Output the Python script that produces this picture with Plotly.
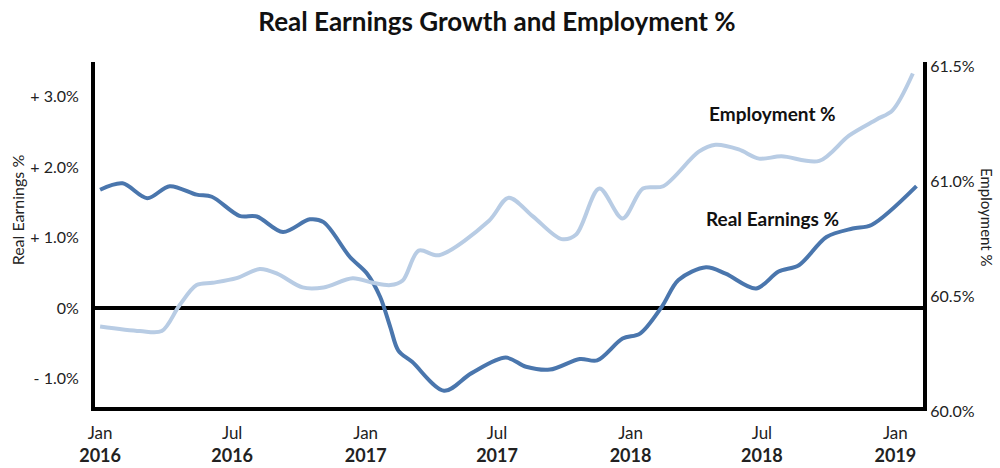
import plotly.graph_objects as go

# Real average hourly earnings growth, year over year (%)
earn_dates = [
    "2016-01-01", "2016-02-01", "2016-03-06", "2016-04-06", "2016-05-13", "2016-06-03",
    "2016-07-11", "2016-08-04", "2016-09-09", "2016-10-16", "2016-11-04", "2016-12-10",
    "2017-01-03", "2017-01-21", "2017-02-04", "2017-02-15", "2017-03-06", "2017-04-19",
    "2017-05-27", "2017-07-13", "2017-08-10", "2017-09-12", "2017-10-23", "2017-11-16",
    "2017-12-21", "2018-01-14", "2018-02-13", "2018-03-08", "2018-04-15", "2018-05-12",
    "2018-06-23", "2018-07-24", "2018-08-21", "2018-09-28", "2018-11-03", "2018-11-29",
    "2019-01-30",
]
earn_values = [
    1.68, 1.77, 1.56, 1.73, 1.61, 1.58,
    1.31, 1.30, 1.08, 1.26, 1.22, 0.73,
    0.49, 0.16, -0.27, -0.60, -0.76, -1.17,
    -0.92, -0.70, -0.83, -0.87, -0.72, -0.74,
    -0.43, -0.36, 0.02, 0.40, 0.58, 0.49,
    0.28, 0.52, 0.61, 1.01, 1.13, 1.18,
    1.73,
]

# Employment-population ratio (%)
emp_dates = [
    "2016-01-01", "2016-02-25", "2016-03-26", "2016-04-19", "2016-05-13", "2016-06-04",
    "2016-07-07", "2016-08-08", "2016-09-01", "2016-10-06", "2016-11-04", "2016-12-14",
    "2017-01-11", "2017-02-04", "2017-02-21", "2017-03-15", "2017-04-12", "2017-06-20",
    "2017-07-17", "2017-08-19", "2017-09-28", "2017-10-18", "2017-11-19", "2017-12-21",
    "2018-01-18", "2018-02-15", "2018-04-05", "2018-04-28", "2018-05-30", "2018-06-27",
    "2018-07-28", "2018-09-18", "2018-10-29", "2018-12-06", "2018-12-28", "2019-01-25",
]
emp_values = [
    60.35, 60.33, 60.33, 60.44, 60.53, 60.54,
    60.56, 60.60, 60.58, 60.52, 60.52, 60.56,
    60.54, 60.53, 60.55, 60.68, 60.66, 60.81,
    60.91, 60.83, 60.73, 60.75, 60.95, 60.82,
    60.95, 60.96, 61.11, 61.14, 61.12, 61.08,
    61.09, 61.07, 61.18, 61.25, 61.29, 61.45,
]

x_tickvals = ["2016-01-01", "2016-07-01", "2017-01-01", "2017-07-01",
              "2018-01-01", "2018-07-01", "2019-01-01"]
x_months = ["Jan", "Jul", "Jan", "Jul", "Jan", "Jul", "Jan"]
x_years = ["2016", "2016", "2017", "2017", "2018", "2018", "2019"]
x_ticktext = [f"<span style='font-size:17px'>{m}</span><br><b>{y}</b>"
              for m, y in zip(x_months, x_years)]
left_tickvals = [-1, 0, 1, 2, 3]
left_ticktext = ["- 1.0%", "0%", "+ 1.0%", "+ 2.0%", "+ 3.0%"]
right_tickvals = [60.0, 60.5, 61.0, 61.5]
right_ticktext = ["60.0%", "60.5%", "61.0%", "61.5%"]

FONT = "Lato"
DARK = "#4a76ad"
LIGHT = "#b8cce4"
TEXT = "#222222"

fig = go.Figure()
fig.add_trace(go.Scatter(
    x=emp_dates, y=emp_values, yaxis="y2", mode="lines",
    line=dict(color=LIGHT, width=4, shape="spline", smoothing=0.9),
    name="Employment %", hoverinfo="x+y",
))
fig.add_trace(go.Scatter(
    x=earn_dates, y=earn_values, yaxis="y", mode="lines",
    line=dict(color=DARK, width=4, shape="spline", smoothing=0.9),
    name="Real Earnings %", hoverinfo="x+y",
))

fig.update_layout(
    width=1000, height=468,
    margin=dict(l=95, r=77, t=62, b=61),
    paper_bgcolor="white", plot_bgcolor="white",
    showlegend=False,
    font=dict(family=FONT, color=TEXT, size=14),
    title=dict(text="<b>Real Earnings Growth and Employment %</b>",
               x=0.497, xanchor="center", y=0.953, yanchor="middle",
               font=dict(family=FONT, size=26, color="#111111")),
    xaxis=dict(
        type="date", range=["2015-12-25", "2019-02-08"],
        tickvals=x_tickvals, ticktext=x_ticktext,
        showgrid=False, zeroline=False, automargin=False,
        showline=True, linecolor="black", linewidth=4,
        ticks="outside", ticklen=6, tickcolor="rgba(0,0,0,0)",
        tickfont=dict(family=FONT, size=18, color=TEXT),
    ),
    yaxis=dict(
        range=[-1.40, 3.49],
        tickvals=left_tickvals, ticktext=left_ticktext,
        showgrid=False, automargin=False,
        zeroline=True, zerolinecolor="black", zerolinewidth=3.5,
        showline=True, linecolor="black", linewidth=4,
        ticks="outside", ticklen=9, tickcolor="rgba(0,0,0,0)",
        tickfont=dict(family=FONT, size=16, color=TEXT),
    ),
    yaxis2=dict(
        range=[60.0, 61.5], overlaying="y", side="right",
        tickvals=right_tickvals, ticktext=right_ticktext,
        showgrid=False, zeroline=False, automargin=False,
        showline=True, linecolor="black", linewidth=4,
        ticks="", ticklabelshift=4,
        tickfont=dict(family=FONT, size=16, color=TEXT),
    ),
)

# axis titles
fig.add_annotation(text="Real Earnings %", xref="paper", yref="paper",
                   x=-0.0942, y=0.57, xanchor="center", yanchor="middle",
                   textangle=-90, showarrow=False,
                   font=dict(family=FONT, size=16, color=TEXT))
fig.add_annotation(text="Employment %", xref="paper", yref="paper",
                   x=1.0775, y=0.55, xanchor="center", yanchor="middle",
                   textangle=90, showarrow=False,
                   font=dict(family=FONT, size=15, color=TEXT))

# series labels
fig.add_annotation(text="<b>Employment %</b>", x="2018-07-16", y=61.274, yref="y2",
                   showarrow=False, font=dict(family=FONT, size=19, color="#111111"))
fig.add_annotation(text="<b>Real Earnings %</b>", x="2018-07-16", y=1.277, yref="y",
                   showarrow=False, font=dict(family=FONT, size=19, color="#111111"))

fig.write_html("out.html")
